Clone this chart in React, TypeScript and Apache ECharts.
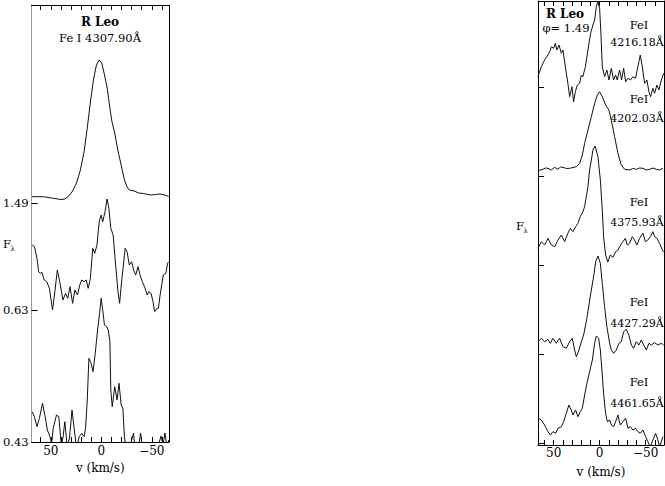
import React, { useEffect, useRef } from "react";
import * as echarts from "echarts";

const FONT = '"DejaVu Serif", "Liberation Serif", serif';

// phase labels (left panel) and the baseline level of each spectrum
const leftPhases = ["1.49", "0.63", "0.43"];
const leftOffsets = [2.39, 1.32, 0];

// Fe I lines (right panel, phase 1.49) and baselines
const rightLines = ["4216.18Å", "4202.03Å", "4375.93Å", "4427.29Å", "4461.65Å"];
const rightOffsets = [3.58, 2.69, 1.8, 0.91, 0.02];

const velTicks = [-60, -50, -40, -30, -20, -10, 0, 10, 20, 30, 40, 50, 60];
const velLabels = [50, 0, -50];

// [velocity km/s, relative flux]
const specL149: [number, number][] = [
  [68.5, 0.063], [57.2, 0.063], [47.6, 0.047], [39.9, 0.035], [36.1, 0.04], [32.2, 0.07],
  [28.4, 0.12], [24.5, 0.2], [20.7, 0.33], [17.1, 0.51], [13.9, 0.75], [10.8, 1.01],
  [7.5, 1.25], [4.8, 1.38], [2.2, 1.43], [-0.5, 1.4], [-3.4, 1.27], [-5.8, 1.15],
  [-8.2, 0.97], [-10.6, 0.81], [-13.3, 0.7], [-15.9, 0.55], [-18.1, 0.45], [-20.7, 0.33],
  [-22.9, 0.23], [-25.5, 0.16], [-27.7, 0.13], [-32.5, 0.12], [-37.0, 0.1], [-41.8, 0.095],
  [-48.6, 0.08], [-53.4, 0.085], [-58.2, 0.09], [-63.0, 0.08], [-66.8, 0.065],
];

const specL063: [number, number][] = [
  [68.5, 0.65], [66.2, 0.633], [63.7, 0.517], [62.0, 0.383], [60.4, 0.367], [58.8, 0.377],
  [56.5, 0.3], [54.0, 0.283], [51.4, 0.217], [48.3, 0.0], [46.0, 0.183], [43.5, 0.4],
  [41.2, 0.283], [38.0, 0.1], [35.4, 0.167], [33.2, 0.117], [31.0, 0.233], [28.4, 0.067],
  [26.2, 0.2], [23.6, 0.15], [21.3, 0.25], [19.4, 0.3], [17.1, 0.283], [14.9, 0.3],
  [13.0, 0.217], [10.8, 0.317], [8.5, 0.617], [6.5, 0.567], [4.3, 0.65], [2.1, 0.883],
  [0.2, 0.95], [-1.4, 0.883], [-3.7, 0.983], [-5.6, 1.11], [-7.5, 1.017], [-9.4, 0.817],
  [-11.7, 0.75], [-13.9, 0.483], [-16.5, 0.183], [-18.1, 0.067], [-20.4, 0.317], [-23.6, 0.617],
  [-25.5, 0.583], [-27.7, 0.45], [-30.0, 0.483], [-31.9, 0.4], [-34.1, 0.35], [-36.3, 0.433],
  [-38.3, 0.35], [-40.6, 0.283], [-42.8, 0.233], [-45.4, 0.15], [-46.9, 0.183], [-49.2, 0.167],
  [-51.2, 0.083], [-52.7, -0.017], [-55.0, 0.017], [-56.5, 0.017], [-58.2, 0.15], [-59.8, 0.25],
  [-61.3, 0.35], [-63.9, 0.367], [-65.6, 0.467], [-66.8, 0.483],
];

const specL043: [number, number][] = [
  [68.5, 0.303], [66.2, 0.253], [63.7, 0.153], [61.3, 0.237], [58.2, 0.387], [55.6, 0.253],
  [53.4, 0.12], [50.8, 0.053], [49.2, -0.02], [47.6, 0.137], [44.4, 0.27], [42.1, 0.253],
  [39.6, -0.03], [38.0, 0.04], [36.1, 0.203], [33.8, -0.04], [31.5, 0.04], [29.0, 0.32],
  [26.7, 0.12], [24.5, -0.06], [21.9, 0.053], [19.4, 0.087], [17.1, 0.053], [15.6, 0.137],
  [13.9, 0.42], [12.3, 0.837], [10.1, 0.787], [8.2, 0.703], [6.0, 0.887], [3.7, 1.12],
  [1.7, 1.287], [0.2, 1.437], [-1.4, 1.32], [-3.1, 1.17], [-5.3, 1.153], [-6.9, 1.12],
  [-8.5, 1.003], [-9.4, 0.52], [-10.8, 0.353], [-13.3, 0.553], [-15.6, 0.42], [-17.5, 0.587],
  [-19.7, 0.37], [-21.3, 0.337], [-22.9, 0.053], [-24.5, -0.06], [-27.4, -0.08], [-31.9, 0.09],
  [-33.2, -0.06], [-37.0, -0.04], [-38.9, 0.09], [-40.9, -0.08], [-48.6, -0.06], [-56.3, -0.04],
  [-59.1, 0.06], [-61.1, -0.03], [-63.0, 0.09], [-64.9, -0.04], [-66.8, 0.02],
];

const specFe4216: [number, number][] = [
  [67.1, 0.103], [63.4, 0.203], [59.8, 0.27], [56.2, 0.32], [54.3, 0.353], [52.5, 0.403],
  [50.0, 0.387], [48.2, 0.437], [46.4, 0.37], [44.2, 0.42], [41.6, 0.337], [39.9, 0.37],
  [37.3, 0.203], [34.5, 0.037], [32.6, -0.097], [30.1, 0.003], [28.3, -0.147], [26.4, -0.047],
  [24.2, 0.02], [21.7, 0.037], [19.9, 0.12], [18.2, 0.103], [15.5, 0.203], [12.7, 0.37],
  [9.8, 0.537], [7.3, 0.62], [5.4, 0.67], [3.6, 0.803], [1.8, 0.853], [0.0, 0.787],
  [-1.4, 0.537], [-2.9, 0.203], [-5.4, 0.103], [-7.9, 0.17], [-10.1, 0.07], [-12.7, 0.187],
  [-15.2, 0.07], [-17.4, 0.12], [-19.2, 0.07], [-21.7, 0.17], [-23.9, 0.07], [-26.1, 0.187],
  [-28.3, 0.053], [-30.8, 0.087], [-33.7, 0.07], [-36.2, 0.103], [-39.1, 0.087], [-41.6, 0.203],
  [-44.2, 0.32], [-46.4, 0.203], [-48.9, 0.037], [-51.4, 0.07], [-53.6, -0.047], [-55.4, -0.097],
  [-57.9, -0.013], [-59.8, -0.063], [-62.3, 0.02], [-64.5, -0.03], [-67.1, 0.07], [-69.6, 0.137],
];

const specFe4202: [number, number][] = [
  [67.1, 0.053], [61.6, 0.067], [58.8, 0.08], [56.2, 0.077], [52.5, 0.06], [48.9, 0.087],
  [45.3, 0.067], [42.5, 0.09], [39.9, 0.087], [36.0, 0.075], [32.6, 0.077], [25.3, 0.093],
  [21.7, 0.127], [18.8, 0.21], [16.3, 0.327], [12.7, 0.46], [9.0, 0.593], [5.4, 0.727],
  [2.5, 0.81], [0.0, 0.843], [-2.9, 0.793], [-6.5, 0.71], [-10.1, 0.66], [-12.7, 0.56],
  [-16.3, 0.393], [-19.9, 0.227], [-23.6, 0.11], [-27.2, 0.067], [-32.6, 0.06], [-36.0, 0.075],
  [-39.9, 0.067], [-43.5, 0.08], [-47.1, 0.077], [-50.8, 0.06], [-54.3, 0.067], [-58.0, 0.08],
  [-61.6, 0.067], [-65.0, 0.06], [-68.8, 0.077],
];

const specFe4375: [number, number][] = [
  [67.1, 0.167], [63.4, 0.233], [59.8, 0.2], [56.2, 0.267], [52.5, 0.2], [48.9, 0.183],
  [45.3, 0.25], [41.6, 0.3], [38.0, 0.233], [34.5, 0.317], [31.8, 0.367], [29.0, 0.333],
  [26.1, 0.383], [23.6, 0.417], [21.0, 0.483], [18.2, 0.533], [16.3, 0.583], [14.5, 0.683],
  [12.7, 0.783], [10.9, 0.95], [9.0, 1.05], [7.3, 1.15], [4.9, 1.19], [1.8, 1.083],
  [-0.8, 0.85], [-2.9, 0.55], [-4.3, 0.283], [-6.5, 0.1], [-9.0, 0.03], [-11.6, 0.1],
  [-14.5, 0.077], [-17.4, 0.133], [-19.9, 0.15], [-22.8, 0.2], [-25.3, 0.233], [-27.9, 0.267],
  [-30.1, 0.2], [-32.6, 0.217], [-35.5, 0.283], [-38.0, 0.25], [-40.5, 0.2], [-43.5, 0.267],
  [-47.1, 0.317], [-49.7, 0.233], [-52.5, 0.25], [-55.1, 0.283], [-57.9, 0.333], [-59.8, 0.283],
  [-62.3, 0.267], [-65.2, 0.217], [-68.2, 0.15], [-69.6, 0.133],
];

const specFe4427: [number, number][] = [
  [67.1, 0.123], [63.4, 0.157], [59.8, 0.123], [56.2, 0.147], [53.6, 0.107], [50.8, 0.157],
  [47.1, 0.107], [43.5, 0.157], [39.9, 0.073], [36.2, 0.057], [32.6, 0.123], [29.7, 0.157],
  [27.2, 0.04], [25.3, -0.027], [22.5, 0.04], [19.9, 0.123], [17.4, 0.19], [14.5, 0.323],
  [11.6, 0.49], [9.0, 0.64], [6.5, 0.773], [4.3, 0.923], [1.8, 0.98], [-0.8, 0.907],
  [-2.9, 0.707], [-5.4, 0.473], [-7.9, 0.273], [-10.9, 0.107], [-12.7, 0.04], [-15.2, 0.007],
  [-18.2, 0.04], [-21.0, 0.107], [-23.6, 0.123], [-26.1, 0.223], [-29.0, 0.247], [-31.8, 0.19],
  [-34.5, 0.09], [-37.0, 0.057], [-39.9, 0.123], [-42.7, 0.09], [-45.3, 0.14], [-47.8, 0.09],
  [-50.8, 0.04], [-53.6, 0.107], [-56.2, 0.09], [-59.8, 0.113], [-63.4, 0.09], [-67.1, 0.107],
  [-69.6, 0.09],
];

const specFe4461: [number, number][] = [
  [67.1, 0.247], [63.4, 0.23], [59.8, 0.18], [56.2, 0.113], [53.6, 0.08], [50.8, 0.113],
  [47.8, 0.097], [45.3, 0.147], [41.6, 0.163], [39.1, 0.213], [36.2, 0.297], [33.4, 0.38],
  [30.8, 0.33], [29.0, 0.28], [26.1, 0.33], [23.6, 0.263], [21.0, 0.313], [18.8, 0.347],
  [16.3, 0.48], [13.8, 0.597], [10.9, 0.713], [7.9, 0.83], [5.4, 0.997], [3.6, 1.07],
  [1.1, 1.047], [-0.8, 0.93], [-2.5, 0.73], [-4.3, 0.497], [-6.5, 0.297], [-8.4, 0.213],
  [-10.9, 0.23], [-12.7, 0.18], [-15.2, 0.163], [-17.4, 0.213], [-19.9, 0.28], [-22.5, 0.18],
  [-25.3, 0.213], [-28.3, 0.247], [-30.8, 0.147], [-33.4, 0.163], [-36.2, 0.13], [-39.1, 0.147],
  [-41.6, 0.113], [-44.2, 0.097], [-47.1, 0.13], [-50.0, 0.063], [-52.5, 0.013], [-55.1, -0.04],
  [-57.9, 0.03], [-60.9, 0.097], [-63.4, 0.03], [-65.2, -0.04], [-68.8, 0.063],
];

const leftSpectra = [specL149, specL063, specL043];
const rightSpectra = [specFe4216, specFe4202, specFe4375, specFe4427, specFe4461];

const fmtVel = (v: number) => (v < 0 ? "\u2212" + Math.abs(v) : String(v));

function xAxes(grid: number, min: number, max: number, nameGap: number, labelMargin: number) {
  const common = {
    gridIndex: grid,
    type: "value",
    min,
    max,
    inverse: true,
    splitLine: { show: false },
  };
  return [
    {
      ...common,
      position: "bottom",
      axisLine: { show: true, onZero: false, lineStyle: { color: "#000", width: 1 } },
      axisTick: {
        show: true,
        inside: true,
        length: 5,
        customValues: velTicks,
        lineStyle: { color: "#000", width: 1 },
      },
      axisLabel: {
        show: true,
        customValues: velLabels,
        formatter: fmtVel,
        fontFamily: FONT,
        fontSize: 12,
        color: "#000",
        margin: labelMargin,
      },
      name: "v (km/s)",
      nameLocation: "middle",
      nameGap,
      nameTextStyle: { fontFamily: FONT, fontSize: 12, color: "#000" },
    },
    {
      ...common,
      position: "top",
      axisLine: { show: true, onZero: false, lineStyle: { color: "#000", width: 1 } },
      axisTick: {
        show: true,
        inside: true,
        length: 5,
        customValues: velTicks,
        lineStyle: { color: "#000", width: 1 },
      },
      axisLabel: { show: false },
    },
  ];
}

function yAxes(
  grid: number,
  max: number,
  offsets: number[],
  labels: string[] | null,
  leftColor: string
) {
  return [
    {
      gridIndex: grid,
      type: "value",
      min: 0,
      max,
      position: "left",
      splitLine: { show: false },
      axisLine: { show: true, onZero: false, lineStyle: { color: leftColor, width: 1 } },
      axisTick: {
        show: true,
        inside: true,
        length: 6,
        customValues: offsets,
        lineStyle: { color: "#000", width: 1 },
      },
      axisLabel: labels
        ? {
            show: true,
            customValues: offsets,
            formatter: (val: number) => {
              const i = offsets.findIndex((o) => Math.abs(o - val) < 1e-6);
              return i >= 0 ? labels[i] : "";
            },
            fontFamily: FONT,
            fontSize: 11.5,
            color: "#000",
            margin: 3,
          }
        : { show: false },
    },
    {
      gridIndex: grid,
      type: "value",
      min: 0,
      max,
      position: "right",
      splitLine: { show: false },
      axisLine: { show: true, onZero: false, lineStyle: { color: "#000", width: 1 } },
      axisTick: { show: false },
      axisLabel: { show: false },
    },
  ];
}

const txt = (
  text: string,
  x: number,
  y: number,
  size: number,
  align: string = "center",
  weight: string = "normal"
) => ({
  type: "text",
  x,
  y,
  silent: true,
  style: {
    text,
    fill: "#000",
    font: `${weight} ${size}px ${FONT}`,
    align,
    verticalAlign: "middle",
  },
});

export default function App() {
  const ref = useRef<HTMLDivElement>(null);

  useEffect(() => {
    if (!ref.current) return;
    const chart = echarts.init(ref.current, null, { renderer: "svg" });

    const lineSeries = (spec: [number, number][], offset: number, xi: number, yi: number) => ({
      type: "line",
      xAxisIndex: xi,
      yAxisIndex: yi,
      data: spec.map(([v, f]) => [v, f + offset]),
      showSymbol: false,
      symbol: "none",
      clip: true,
      silent: true,
      lineStyle: { color: "#111", width: 1 },
    });

    const graphics: any[] = [
      txt("R Leo", 100, 22, 12, "center", "bold"),
      txt("Fe I 4307.90Å", 100, 38, 11.5),
      txt("F", 3, 244, 11.5, "left"),
      txt("λ", 10.5, 249, 7, "left"),
      txt("R Leo", 565, 14, 12, "center", "bold"),
      txt("φ= 1.49", 566, 28, 11.5),
      txt("F", 516, 226, 11.5, "left"),
      txt("λ", 523.5, 231, 7, "left"),
    ];
    const feY = [25, 99, 202, 302, 382];
    const wlY = [42, 118, 222, 323, 403];
    rightLines.forEach((wl, i) => {
      graphics.push(txt("FeI", 639, feY[i], 11.5));
      graphics.push(txt(wl, 637, wlY[i], 11));
    });

    chart.setOption({
      animation: false,
      backgroundColor: "#fff",
      grid: [
        { left: 28, top: 5, width: 141, height: 437 },
        { left: 538, top: 1, width: 126, height: 444 },
      ],
      xAxis: [...xAxes(0, -67, 69, 12, 3), ...xAxes(1, -70, 67, 21, 2)],
      yAxis: [
        ...yAxes(0, 4.37, leftOffsets, leftPhases, "#9a9a9a"),
        ...yAxes(1, 4.44, rightOffsets, null, "#000"),
      ],
      series: [
        ...leftSpectra.map((s, i) => lineSeries(s, leftOffsets[i], 0, 0)),
        ...rightSpectra.map((s, i) => lineSeries(s, rightOffsets[i], 2, 2)),
      ],
      graphic: graphics,
    });

    return () => chart.dispose();
  }, []);

  return (
    <div
      ref={ref}
      style={{ position: "fixed", left: 0, top: 0, width: 665, height: 486, background: "#fff" }}
    />
  );
}
